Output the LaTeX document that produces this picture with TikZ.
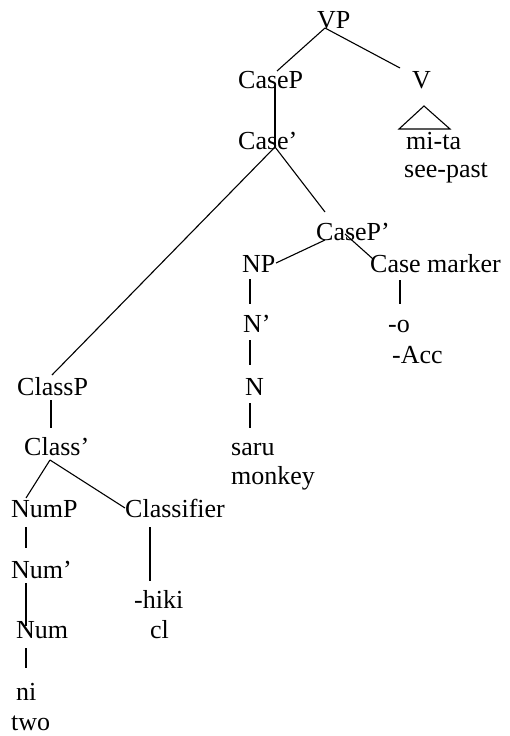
\documentclass[tikz,border=0pt]{standalone}
\usepackage{fontspec}
\setmainfont{Liberation Serif}
\begin{document}
\begin{tikzpicture}[x=1pt,y=-1pt,
  lbl/.style={anchor=base west,inner sep=0pt,font=\fontsize{26}{30}\selectfont},
  edge/.style={draw,line width=1.1pt}]
\useasboundingbox (0,0) rectangle (509,736);
% labels
\node[lbl] (vp) at (317,28) {VP};
\node[lbl] (casep) at (238,88) {CaseP};
\node[lbl] (v) at (412,88) {V};
\node[lbl] (casebar) at (238,149) {Case'};
\node[lbl] (mita) at (406,149) {mi-ta};
\node[lbl] (seepast) at (404,177) {see-past};
\node[lbl] (casepp) at (316,240) {CaseP'};
\node[lbl] (np) at (242,272) {NP};
\node[lbl] (cm) at (370,272) {Case marker};
\node[lbl] (nbar) at (243,332) {N'};
\node[lbl] (o) at (388,332) {-o};
\node[lbl] (acc) at (392,363) {-Acc};
\node[lbl] (classp) at (17,395) {ClassP};
\node[lbl] (n) at (245,395) {N};
\node[lbl] (classbar) at (24,455) {Class'};
\node[lbl] (saru) at (231,455) {saru};
\node[lbl] (monkey) at (231,484) {monkey};
\node[lbl] (nump) at (11,517) {NumP};
\node[lbl] (classifier) at (125,517) {Classifier};
\node[lbl] (numbar) at (11,578) {Num'};
\node[lbl] (hiki) at (134,608) {-hiki};
\node[lbl] (num) at (16,638) {Num};
\node[lbl] (cl) at (150,638) {cl};
\node[lbl] (ni) at (16,700) {ni};
\node[lbl] (two) at (11,730) {two};
% connector end points
\coordinate (vpB) at (325,28);
\coordinate (casepT) at (277,71);
\coordinate (vT) at (400,68);
\coordinate (casepB) at (275,85);
\coordinate (casebarT) at (275,147);
\coordinate (casebarB) at (275,147);
\coordinate (classpT) at (52,375);
\coordinate (caseppT) at (325,212);
\coordinate (caseppL) at (325,240);
\coordinate (caseppR) at (345,234);
\coordinate (npT) at (276,263);
\coordinate (cmT) at (373,259);
\coordinate (npB) at (250,279);
\coordinate (nbarT) at (250,304);
\coordinate (nbarB) at (250,340);
\coordinate (nT) at (250,365);
\coordinate (nB) at (250,403);
\coordinate (saruT) at (250,428);
\coordinate (cmB) at (400,280);
\coordinate (oT) at (400,304);
\coordinate (classpB) at (51,400);
\coordinate (classbarT) at (51,428);
\coordinate (classbarB) at (50,460);
\coordinate (numpT) at (26,498);
\coordinate (classifierT) at (125,508);
\coordinate (numpB) at (26,527);
\coordinate (numbarT) at (26,548);
\coordinate (numbarB) at (26,583);
\coordinate (numT) at (26,626);
\coordinate (numB) at (26,648);
\coordinate (niT) at (26,668);
\coordinate (classifierB) at (150,527);
\coordinate (hikiT) at (150,581);
% triangle
\coordinate (triA) at (424,106);
\coordinate (triL) at (399,129);
\coordinate (triR) at (450,129);
\draw[edge] (triL) -- (triA) -- (triR) -- cycle;
% connectors
\draw[edge] (vpB) -- (casepT);
\draw[edge] (vpB) -- (vT);
\draw[edge] (casepB) -- (casebarT);
\draw[edge] (casebarB) -- (classpT);
\draw[edge] (casebarB) -- (caseppT);
\draw[edge] (caseppL) -- (npT);
\draw[edge] (caseppR) -- (cmT);
\draw[edge] (npB) -- (nbarT);
\draw[edge] (nbarB) -- (nT);
\draw[edge] (nB) -- (saruT);
\draw[edge] (cmB) -- (oT);
\draw[edge] (classpB) -- (classbarT);
\draw[edge] (classbarB) -- (numpT);
\draw[edge] (classbarB) -- (classifierT);
\draw[edge] (numpB) -- (numbarT);
\draw[edge] (numbarB) -- (numT);
\draw[edge] (numB) -- (niT);
\draw[edge] (classifierB) -- (hikiT);
\end{tikzpicture}
\end{document}
